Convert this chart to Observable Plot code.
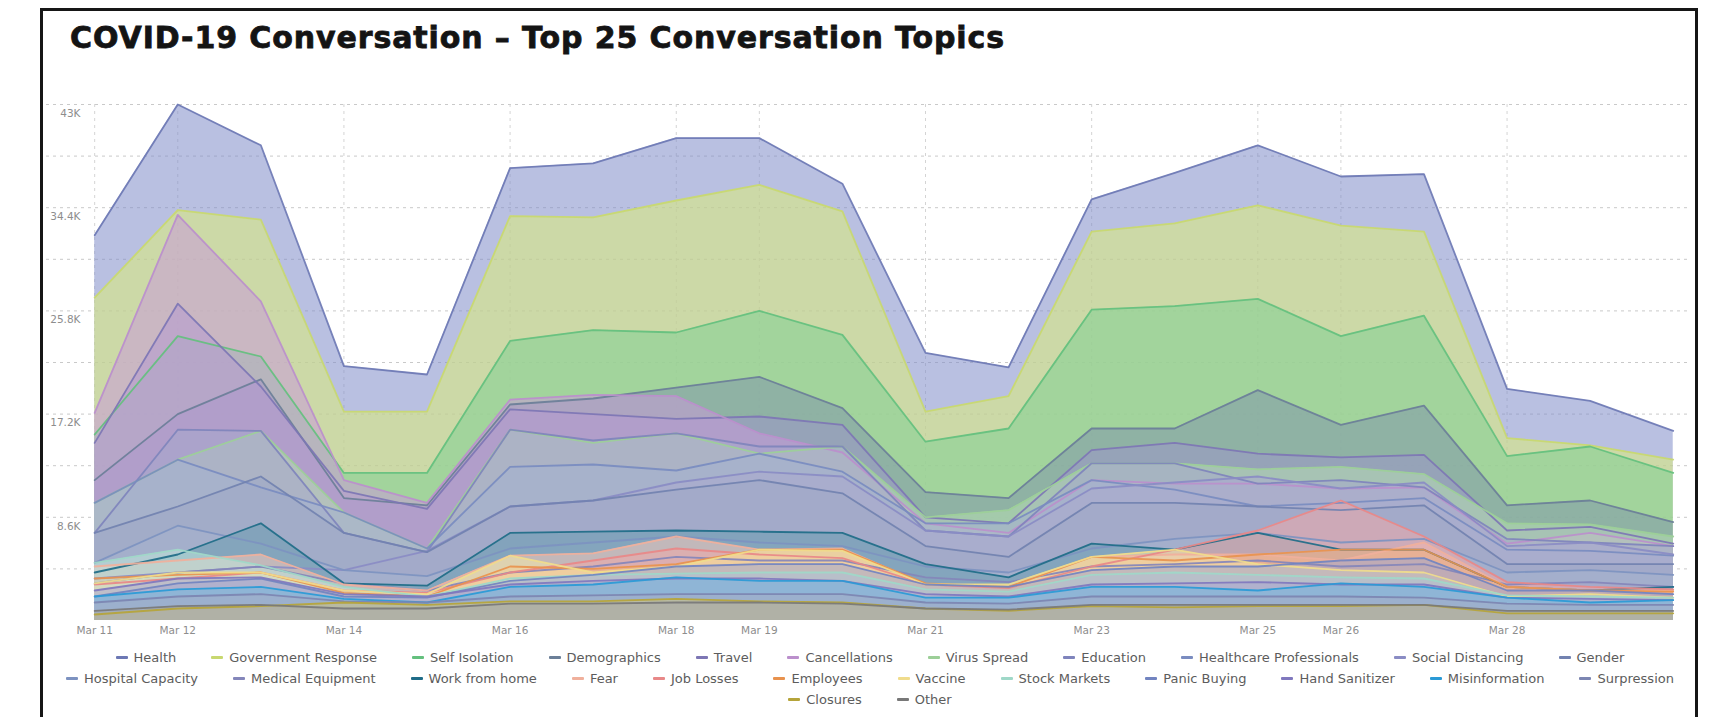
<!DOCTYPE html>
<html>
<head>
<meta charset="utf-8">
<script src="https://cdn.jsdelivr.net/npm/d3@7"></script>
<script src="https://cdn.jsdelivr.net/npm/@observablehq/plot@0.6"></script>
<style>
  html, body { margin: 0; padding: 0; background: #fff; }
  body { position: relative; width: 1716px; height: 717px; overflow: hidden; font-family: "DejaVu Sans", sans-serif; }
  #frame { position: absolute; left: 40px; top: 8px; width: 1652px; height: 730px; border: 3px solid #161616; border-bottom: none; }
  #title { position: absolute; left: 70px; top: 23px; font: bold 30px/1 "DejaVu Sans", sans-serif; letter-spacing: 0.9px; color: #141414; white-space: nowrap; -webkit-text-stroke: 0.8px #141414; }
  #chart { position: absolute; left: 0; top: 0; }
  #legend { position: absolute; left: 42px; top: 647px; width: 1656px; font: 13px/21px "DejaVu Sans", sans-serif; color: #5c5c5c; }
  .row { display: flex; justify-content: center; column-gap: 35px; white-space: nowrap; }
  .item { display: flex; align-items: center; }
  .sw { width: 12px; height: 3px; border-radius: 1px; margin-right: 6px; }
</style>
</head>
<body>
<div id="frame"></div>
<div id="title">COVID-19 Conversation – Top 25 Conversation Topics</div>
<div id="chart"></div>
<div id="legend"></div>
<script>
// Daily mention counts (thousands) per conversation topic, Mar 11 – Mar 30
const dates = [
  "2020-03-11", "2020-03-12", "2020-03-13", "2020-03-14", "2020-03-15",
  "2020-03-16", "2020-03-17", "2020-03-18", "2020-03-19", "2020-03-20",
  "2020-03-21", "2020-03-22", "2020-03-23", "2020-03-24", "2020-03-25",
  "2020-03-26", "2020-03-27", "2020-03-28", "2020-03-29", "2020-03-30"
];

const topics = [
  "Health", "Government Response", "Self Isolation", "Demographics", "Travel",
  "Cancellations", "Virus Spread", "Education", "Healthcare Professionals",
  "Social Distancing", "Gender", "Hospital Capacity", "Medical Equipment",
  "Work from home", "Fear", "Job Losses", "Employees", "Vaccine", "Stock Markets",
  "Panic Buying", "Hand Sanitizer", "Misinformation", "Surpression", "Closures", "Other"
];

// Line colour and (lighter) area colour for each topic
const lineColors = [
  "#6c78b4", "#c8d870", "#64c07e", "#6b7f98", "#7d76b4",
  "#bb8fcc", "#9ccf98", "#7f84bc", "#7a8cc0",
  "#8a8cc4", "#7282b0", "#7d92c0", "#8486ba",
  "#1f6c88", "#f0b09c", "#e88888", "#e8924e", "#f0dc8c", "#9fd8c8",
  "#7284c0", "#8078be", "#2a9ad6", "#7c86b2", "#b5a43a", "#787878"
];
const areaColors = [
  "#7f8cc8", "#dcec78", "#80cf94", "#7f96ab", "#9d97c8",
  "#c99ad8", "#b6dfb0", "#a6a8cc", "#a4b0d0",
  "#acaad0", "#9ea8c6", "#a6b2ce", "#a8a6c8",
  "#6a9cb0", "#f6c8b8", "#f0a8a8", "#f0b080", "#f6e8a8", "#bfe6da",
  "#a0a8d0", "#aca6d0", "#72b8de", "#a8acc6", "#cfc380", "#aaaaaa"
];

const health                  = [32.1, 43.0, 39.6, 21.2, 20.5, 37.7, 38.1, 40.2, 40.2, 36.4, 22.3, 21.1, 35.1, 37.3, 39.6, 37.0, 37.2, 19.3, 18.3, 15.8];
const governmentResponse      = [26.9, 34.2, 33.4, 17.4, 17.4, 33.7, 33.6, 35.0, 36.3, 34.1, 17.4, 18.7, 32.4, 33.1, 34.6, 32.9, 32.4, 15.2, 14.6, 13.4];
const selfIsolation           = [15.5, 23.7, 22.0, 12.3, 12.3, 23.3, 24.2, 24.0, 25.8, 23.8, 14.9, 16.0, 25.9, 26.2, 26.8, 23.7, 25.4, 13.7, 14.5, 12.3];
const demographics            = [11.7, 17.2, 20.1, 10.2,  9.6, 18.0, 18.5, 19.4, 20.3, 17.7, 10.7, 10.2, 16.0, 16.0, 19.2, 16.3, 17.9,  9.6, 10.0,  8.2];
const travel                  = [14.8, 26.4, 19.5, 10.8,  9.3, 17.6, 17.2, 16.8, 17.0, 16.3,  8.6,  8.1, 14.2, 14.8, 13.9, 13.6, 13.8,  7.5,  7.8,  6.4];
const cancellations           = [17.3, 33.8, 26.6, 11.7,  9.8, 18.4, 18.8, 18.7, 15.6, 14.0,  8.1,  7.3, 11.7, 11.4, 11.4, 11.0, 11.1,  6.4,  7.3,  6.2];
const virusSpread             = [ 9.8, 13.4, 15.8,  9.0,  6.0, 15.9, 14.8, 15.6, 13.9, 14.5,  8.6,  9.2, 13.1, 13.1, 12.6, 12.8, 12.2,  8.1,  8.0,  7.0];
const education               = [ 7.3, 15.9, 15.8,  7.3,  5.7, 15.9, 15.0, 15.6, 14.5, 14.5,  7.5,  7.0, 13.1, 13.1, 11.4, 11.7, 11.1,  6.8,  6.5,  6.2];
const healthcareProfessionals = [ 9.8, 13.4, 11.1,  9.0,  6.0, 12.8, 13.0, 12.5, 13.9, 12.4,  8.1,  8.1, 11.7, 10.9,  9.5,  9.8, 10.2,  5.9,  5.8,  5.4];
const socialDistancing        = [ 3.5,  4.0,  4.5,  4.2,  5.8,  9.5, 10.0, 11.5, 12.4, 12.0,  7.5,  7.0, 11.0, 11.5, 12.0, 11.0, 11.5,  6.2,  6.5,  5.5];
const gender                  = [ 7.3,  9.5, 12.0,  7.3,  5.7,  9.5, 10.0, 10.9, 11.7, 10.6,  6.2,  5.3,  9.8,  9.8,  9.5,  9.2,  9.6,  4.7,  4.7,  4.7];
const hospitalCapacity        = [ 4.8,  7.9,  6.4,  4.2,  3.7,  6.0,  6.5,  7.0,  6.5,  6.2,  4.5,  4.0,  6.0,  6.8,  7.3,  6.5,  6.8,  4.0,  4.2,  3.8];
const medicalEquipment        = [ 3.1,  4.0,  4.5,  3.1,  2.5,  4.0,  4.5,  5.3,  5.0,  5.0,  3.6,  3.2,  4.5,  4.7,  5.0,  4.5,  4.7,  3.0,  3.2,  2.8];
const workFromHome            = [ 4.0,  5.5,  8.1,  3.1,  2.9,  7.3,  7.4,  7.5,  7.4,  7.3,  4.7,  3.6,  6.4,  5.9,  7.3,  5.9,  5.9,  2.8,  2.5,  2.8];
const fear                    = [ 4.5,  5.0,  5.5,  3.0,  2.5,  5.4,  5.6,  7.0,  5.9,  6.0,  3.0,  2.8,  5.3,  5.5,  5.5,  5.0,  6.5,  2.8,  2.5,  2.5];
const jobLosses               = [ 3.0,  3.5,  4.0,  2.5,  2.3,  4.0,  5.0,  6.0,  5.5,  5.2,  3.0,  2.7,  4.5,  5.9,  7.5, 10.0,  7.0,  3.2,  2.8,  2.6];
const employees               = [ 3.5,  3.8,  4.0,  2.3,  2.0,  4.5,  4.3,  4.7,  5.9,  5.9,  3.1,  2.8,  5.3,  5.0,  5.5,  5.9,  5.9,  2.8,  2.5,  2.4];
const vaccine                 = [ 3.1,  4.0,  4.0,  2.5,  2.2,  5.4,  4.0,  4.5,  5.9,  5.8,  3.0,  3.0,  5.3,  5.9,  4.7,  4.2,  4.0,  2.0,  2.2,  1.9];
const stockMarkets            = [ 4.8,  5.9,  4.6,  2.8,  2.0,  3.5,  3.8,  3.9,  4.0,  4.0,  2.6,  2.4,  3.8,  4.0,  3.8,  3.6,  3.5,  2.1,  2.0,  1.9];
const panicBuying             = [ 2.0,  3.1,  3.5,  2.0,  1.9,  3.3,  3.8,  4.5,  4.7,  4.7,  3.0,  2.8,  4.2,  4.5,  4.5,  5.0,  5.2,  2.5,  2.5,  2.2];
const handSanitizer           = [ 2.5,  3.5,  3.6,  2.2,  2.0,  3.0,  3.3,  3.5,  3.5,  3.3,  2.2,  2.0,  3.0,  3.1,  3.2,  3.0,  3.0,  1.9,  1.8,  1.7];
const misinformation          = [ 2.0,  2.6,  2.8,  1.8,  1.5,  2.8,  3.0,  3.6,  3.3,  3.3,  1.9,  1.9,  2.8,  2.8,  2.5,  3.1,  2.8,  1.9,  1.5,  1.7];
const surpression             = [ 1.5,  2.0,  2.2,  1.6,  1.5,  2.0,  2.1,  2.2,  2.2,  2.2,  1.5,  1.4,  2.0,  2.0,  2.0,  2.0,  1.9,  1.4,  1.3,  1.3];
const closures                = [ 0.5,  1.0,  1.2,  1.5,  1.3,  1.6,  1.6,  1.8,  1.6,  1.5,  1.0,  0.8,  1.2,  1.1,  1.2,  1.2,  1.3,  0.6,  0.6,  0.6];
const other                   = [ 0.8,  1.2,  1.3,  1.0,  1.0,  1.4,  1.4,  1.5,  1.5,  1.4,  1.0,  0.9,  1.3,  1.3,  1.3,  1.3,  1.3,  0.8,  0.8,  0.8];

const seriesValues = [
  health, governmentResponse, selfIsolation, demographics, travel,
  cancellations, virusSpread, education, healthcareProfessionals,
  socialDistancing, gender, hospitalCapacity, medicalEquipment,
  workFromHome, fear, jobLosses, employees, vaccine, stockMarkets,
  panicBuying, handSanitizer, misinformation, surpression, closures, other
];

// Axis ticks
const xTickDates = ["2020-03-11", "2020-03-12", "2020-03-14", "2020-03-16", "2020-03-18", "2020-03-19",
                    "2020-03-21", "2020-03-23", "2020-03-25", "2020-03-26", "2020-03-28"];
const yTickValues = [8.6, 17.2, 25.8, 34.4, 43];
const yTickLabels = ["8.6K", "17.2K", "25.8K", "34.4K", "43K"];
const yGridValues = d3.range(1, 11).map(k => +(k * 4.3).toFixed(1));

// Long-format table for Plot
const table = topics.flatMap((topic, i) =>
  dates.map((d, j) => ({ topic, date: new Date(d), value: seriesValues[i][j] }))
);

const day = 864e5;
const first = new Date(dates[0]);
const last = new Date(dates[dates.length - 1]);
const xTicks = xTickDates.map(d => new Date(d));
const yLabel = new Map(yTickValues.map((v, i) => [v, yTickLabels[i]]));
const fmtDate = d3.utcFormat("%b %-d");

// One translucent area per topic, drawn in legend order, then all lines on top
const areaMarks = topics.map((topic, i) =>
  Plot.areaY(table, {
    filter: d => d.topic === topic,
    x: "date", y1: 0, y2: "value",
    fill: areaColors[i], fillOpacity: 0.55
  })
);

const chart = Plot.plot({
  width: 1716,
  height: 645,
  marginLeft: 46,
  marginRight: 25,
  marginTop: 104,
  marginBottom: 25,
  style: { fontFamily: "DejaVu Sans, sans-serif", fontSize: "10.5px", background: "transparent" },
  x: { type: "utc", domain: [new Date(+first - 0.58 * day), new Date(+last + 0.22 * day)] },
  y: { domain: [0, 43] },
  color: { domain: topics, range: lineColors },
  marks: [
    Plot.gridY(yGridValues, { stroke: "#c9c9c9", strokeOpacity: 1, strokeDasharray: "3,4" }),
    Plot.gridX(xTicks, { stroke: "#d4d4d4", strokeOpacity: 1, strokeDasharray: "3,4" }),
    ...areaMarks,
    Plot.lineY(table, { x: "date", y: "value", z: "topic", stroke: "topic", strokeWidth: 1.8, strokeOpacity: 0.92 }),
    Plot.axisY(yTickValues, {
      anchor: "left", tickSize: 0, tickPadding: 0, dx: 34, dy: 9,
      tickFormat: v => yLabel.get(v), color: "#8d8d8d", label: null
    }),
    Plot.axisX(xTicks, {
      anchor: "bottom", tickSize: 0, tickPadding: 6,
      tickFormat: fmtDate, color: "#8d8d8d", label: null
    })
  ]
});
document.getElementById("chart").appendChild(chart);

// Legend rows
const legendRows = [[0, 11], [11, 23], [23, 25]];
const legend = document.getElementById("legend");
for (const [a, b] of legendRows) {
  const row = document.createElement("div");
  row.className = "row";
  for (let i = a; i < b; i++) {
    const item = document.createElement("div");
    item.className = "item";
    const sw = document.createElement("span");
    sw.className = "sw";
    sw.style.background = lineColors[i];
    const label = document.createElement("span");
    label.textContent = topics[i];
    item.append(sw, label);
    row.append(item);
  }
  legend.append(row);
}
</script>
</body>
</html>
